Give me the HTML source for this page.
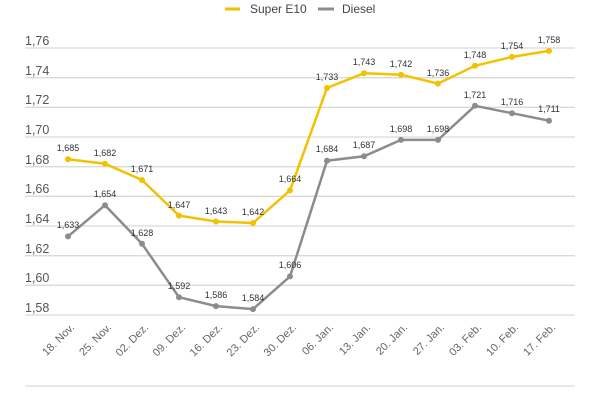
<!DOCTYPE html>
<html><head><meta charset="utf-8"><style>
body{margin:0;background:#fff;}
svg{display:block;font-family:"Liberation Sans",sans-serif;}
.g{stroke:#d9d9d9;stroke-width:1.3}
.yl{font-size:12.5px;fill:#555}
.v{font-size:9px;fill:#333;text-anchor:middle}
.x{font-size:11px;fill:#666;text-anchor:end}
</style></head><body>
<svg width="600" height="400" viewBox="0 0 600 400">
<line x1="225" y1="9" x2="240" y2="9" stroke="#f2c200" stroke-width="3"/>
<text x="250" y="13" font-size="12" fill="#444">Super E10</text>
<line x1="318" y1="9" x2="334" y2="9" stroke="#8c8c8c" stroke-width="3"/>
<text x="342" y="13" font-size="12" fill="#444">Diesel</text>
<g>
<line class="g" x1="25" y1="48" x2="575" y2="48"/>
<line class="g" x1="25" y1="77.7" x2="575" y2="77.7"/>
<line class="g" x1="25" y1="107.3" x2="575" y2="107.3"/>
<line class="g" x1="25" y1="137" x2="575" y2="137"/>
<line class="g" x1="25" y1="166.7" x2="575" y2="166.7"/>
<line class="g" x1="25" y1="196.3" x2="575" y2="196.3"/>
<line class="g" x1="25" y1="226" x2="575" y2="226"/>
<line class="g" x1="25" y1="255.7" x2="575" y2="255.7"/>
<line class="g" x1="25" y1="285.3" x2="575" y2="285.3"/>
<line class="g" x1="25" y1="315" x2="575" y2="315"/>
<line class="g" x1="25" y1="386" x2="575" y2="386"/>
</g>
<g class="yl">
<text x="25" y="45">1,76</text><text x="25" y="75">1,74</text><text x="25" y="104">1,72</text><text x="25" y="134">1,70</text><text x="25" y="164">1,68</text><text x="25" y="193">1,66</text><text x="25" y="223">1,64</text><text x="25" y="253">1,62</text><text x="25" y="282">1,60</text><text x="25" y="312">1,58</text>
</g>
<polyline fill="none" stroke="#8c8c8c" stroke-width="2.5" points="68,236.4 105,205.2 142,243.8 179,297.2 216,306.1 253,309.1 290,276.4 327,160.7 364,156.3 401,139.9 438,139.9 475,105.8 512,113.2 549,120.7"/>
<polyline fill="none" stroke="#f2c200" stroke-width="2.5" points="68,159.2 105,163.7 142,180 179,215.6 216,221.5 253,223 290,190.4 327,88 364,73.2 401,74.7 438,83.6 475,65.8 512,56.9 549,50.9"/>
<g fill="#8c8c8c">
<circle cx="68" cy="236.4" r="3"/><circle cx="105" cy="205.2" r="3"/><circle cx="142" cy="243.8" r="3"/><circle cx="179" cy="297.2" r="3"/><circle cx="216" cy="306.1" r="3"/><circle cx="253" cy="309.1" r="3"/><circle cx="290" cy="276.4" r="3"/><circle cx="327" cy="160.7" r="3"/><circle cx="364" cy="156.3" r="3"/><circle cx="401" cy="139.9" r="3"/><circle cx="438" cy="139.9" r="3"/><circle cx="475" cy="105.8" r="3"/><circle cx="512" cy="113.2" r="3"/><circle cx="549" cy="120.7" r="3"/>
</g>
<g fill="#f2c200">
<circle cx="68" cy="159.2" r="3"/><circle cx="105" cy="163.7" r="3"/><circle cx="142" cy="180" r="3"/><circle cx="179" cy="215.6" r="3"/><circle cx="216" cy="221.5" r="3"/><circle cx="253" cy="223" r="3"/><circle cx="290" cy="190.4" r="3"/><circle cx="327" cy="88" r="3"/><circle cx="364" cy="73.2" r="3"/><circle cx="401" cy="74.7" r="3"/><circle cx="438" cy="83.6" r="3"/><circle cx="475" cy="65.8" r="3"/><circle cx="512" cy="56.9" r="3"/><circle cx="549" cy="50.9" r="3"/>
</g>
<g class="v">
<text x="68" y="151">1,685</text><text x="105" y="156">1,682</text><text x="142" y="172">1,671</text><text x="179" y="208">1,647</text><text x="216" y="214">1,643</text><text x="253" y="215">1,642</text><text x="290" y="182">1,664</text><text x="327" y="80">1,733</text><text x="364" y="65">1,743</text><text x="401" y="67">1,742</text><text x="438" y="76">1,736</text><text x="475" y="58">1,748</text><text x="512" y="49">1,754</text><text x="549" y="43">1,758</text>
<text x="68" y="228">1,633</text><text x="105" y="197">1,654</text><text x="142" y="236">1,628</text><text x="179" y="289">1,592</text><text x="216" y="298">1,586</text><text x="253" y="301">1,584</text><text x="290" y="268">1,606</text><text x="327" y="152">1,684</text><text x="364" y="148">1,687</text><text x="401" y="132">1,698</text><text x="438" y="132">1,698</text><text x="475" y="98">1,721</text><text x="512" y="105">1,716</text><text x="549" y="112">1,711</text>
</g>
<g class="x">
<text transform="translate(75,328) rotate(-45)">18. Nov.</text>
<text transform="translate(112,328) rotate(-45)">25. Nov.</text>
<text transform="translate(149,328) rotate(-45)">02. Dez.</text>
<text transform="translate(186,328) rotate(-45)">09. Dez.</text>
<text transform="translate(223,328) rotate(-45)">16. Dez.</text>
<text transform="translate(260,328) rotate(-45)">23. Dez.</text>
<text transform="translate(297,328) rotate(-45)">30. Dez.</text>
<text transform="translate(334,328) rotate(-45)">06. Jan.</text>
<text transform="translate(371,328) rotate(-45)">13. Jan.</text>
<text transform="translate(408,328) rotate(-45)">20. Jan.</text>
<text transform="translate(445,328) rotate(-45)">27. Jan.</text>
<text transform="translate(482,328) rotate(-45)">03. Feb.</text>
<text transform="translate(519,328) rotate(-45)">10. Feb.</text>
<text transform="translate(556,328) rotate(-45)">17. Feb.</text>
</g>
</svg>
</body></html>
